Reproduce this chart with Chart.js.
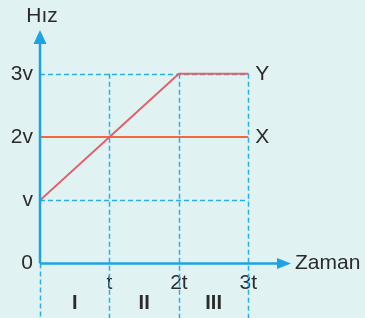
<!DOCTYPE html>
<html>
<head>
<meta charset="utf-8">
<script src="https://cdn.jsdelivr.net/npm/chart.js@4"></script>
<style>
html,body{margin:0;padding:0;background:#e0f2f2;}
#wrap{width:365px;height:318px;position:relative;}
</style>
</head>
<body>
<div id="wrap"><canvas id="c" width="365" height="318"></canvas></div>
<script>
// Data
const xTickValues = [0, 1, 2, 3];
const xTickLabels = ['', 't', '2t', '3t'];
const yTickValues = [0, 1, 2, 3];
const yTickLabels = ['0', 'v', '2v', '3v'];
const seriesY = [{x:0,y:1},{x:2,y:3},{x:3,y:3}];
const seriesX = [{x:0,y:2},{x:3,y:2}];
const seriesNames = ['Y', 'X'];
const regionLabels = ['I', 'II', 'III'];
const xAxisTitle = 'Zaman';
const yAxisTitle = 'Hız';

const AXIS = '#1ba3e3';
const DASH = '#2aaeea';
const TEXT = '#2b2b2b';
const FONT = '"Liberation Sans", Arial, sans-serif';

const deco = {
  id: 'deco',
  beforeDatasetsDraw(chart) {
    const {ctx, chartArea: ca, scales: {x, y}} = chart;
    const H = chart.height;
    ctx.save();
    ctx.strokeStyle = DASH;
    ctx.lineWidth = 1.5;
    ctx.setLineDash([5, 3]);
    // horizontal dashed guides at v and 3v
    [1, 3].forEach(v => {
      const py = Math.round(y.getPixelForValue(v)) + 0.5;
      ctx.beginPath();
      ctx.moveTo(x.getPixelForValue(0), py);
      ctx.lineTo(x.getPixelForValue(3), py);
      ctx.stroke();
    });
    // vertical dashed at t, 2t, 3t
    [1, 2, 3].forEach(v => {
      const px = Math.round(x.getPixelForValue(v)) + 0.5;
      ctx.beginPath();
      ctx.moveTo(px, y.getPixelForValue(3));
      ctx.lineTo(px, H);
      ctx.stroke();
    });
    // dashed under the origin
    const px0 = Math.round(x.getPixelForValue(0)) + 0.5;
    ctx.beginPath();
    ctx.moveTo(px0, y.getPixelForValue(0));
    ctx.lineTo(px0, H);
    ctx.stroke();
    ctx.restore();
  },
  afterDatasetsDraw(chart) {
    const {ctx, chartArea: ca, scales: {x, y}} = chart;
    const ox = x.getPixelForValue(0), oy = y.getPixelForValue(0);
    ctx.save();
    ctx.strokeStyle = AXIS;
    ctx.fillStyle = AXIS;
    ctx.lineWidth = 2.5;
    // y axis
    ctx.beginPath();
    ctx.moveTo(ox, oy);
    ctx.lineTo(ox, ca.top + 10);
    ctx.stroke();
    ctx.beginPath();
    ctx.moveTo(ox, ca.top - 2);
    ctx.lineTo(ox - 6.5, ca.top + 12);
    ctx.lineTo(ox + 6.5, ca.top + 12);
    ctx.closePath();
    ctx.fill();
    // x axis
    ctx.beginPath();
    ctx.moveTo(ox, oy);
    ctx.lineTo(ca.right - 10, oy);
    ctx.stroke();
    ctx.beginPath();
    ctx.moveTo(ca.right + 1, oy);
    ctx.lineTo(ca.right - 13, oy - 5.5);
    ctx.lineTo(ca.right - 13, oy + 5.5);
    ctx.closePath();
    ctx.fill();

    // texts
    ctx.fillStyle = TEXT;
    ctx.font = '21px ' + FONT;
    ctx.textBaseline = 'middle';
    ctx.textAlign = 'left';
    ctx.fillText(xAxisTitle, ca.right + 5, oy);
    ctx.font = '21px ' + FONT;
    ctx.textAlign = 'center';
    ctx.fillText(yAxisTitle, ox + 2, 16);
    // series labels
    ctx.font = '21px ' + FONT;
    ctx.textAlign = 'left';
    ctx.fillText(seriesNames[0], x.getPixelForValue(3) + 7, y.getPixelForValue(3));
    ctx.fillText(seriesNames[1], x.getPixelForValue(3) + 7, y.getPixelForValue(2));
    // region numerals
    ctx.font = 'bold 20px ' + FONT;
    ctx.textAlign = 'center';
    regionLabels.forEach((t, i) => {
      ctx.fillText(t, (x.getPixelForValue(i) + x.getPixelForValue(i + 1)) / 2, 303);
    });
    ctx.restore();
  }
};

new Chart(document.getElementById('c'), {
  type: 'line',
  data: {
    datasets: [
      {label: seriesNames[0], data: seriesY, borderColor: '#e2606a', borderWidth: 2, pointRadius: 0, tension: 0},
      {label: seriesNames[1], data: seriesX, borderColor: '#f26a3c', borderWidth: 2, pointRadius: 0, tension: 0}
    ]
  },
  plugins: [deco],
  options: {
    responsive: false,
    animation: false,
    layout: {padding: {top: 32, right: 75, left: 0, bottom: 0}},
    plugins: {legend: {display: false}, tooltip: {enabled: false}},
    scales: {
      x: {
        type: 'linear', min: 0, max: 3.6,
        grid: {display: false, drawTicks: false},
        border: {display: false},
        afterBuildTicks: s => { s.ticks = xTickValues.map(v => ({value: v})); },
        afterFit: s => { s.height = 54.5; },
        ticks: {
          padding: 7, color: TEXT, maxRotation: 0, autoSkip: false,
          font: {size: 21, family: FONT},
          callback: (v) => xTickLabels[xTickValues.indexOf(v)]
        }
      },
      y: {
        type: 'linear', min: 0, max: 3.66,
        grid: {display: false, drawTicks: false},
        border: {display: false},
        afterBuildTicks: s => { s.ticks = yTickValues.map(v => ({value: v})); },
        afterFit: s => { s.width = 40; },
        ticks: {
          padding: 7, color: TEXT, autoSkip: false,
          font: {size: 21, family: FONT},
          callback: (v) => yTickLabels[yTickValues.indexOf(v)]
        }
      }
    }
  }
});
</script>
</body>
</html>
